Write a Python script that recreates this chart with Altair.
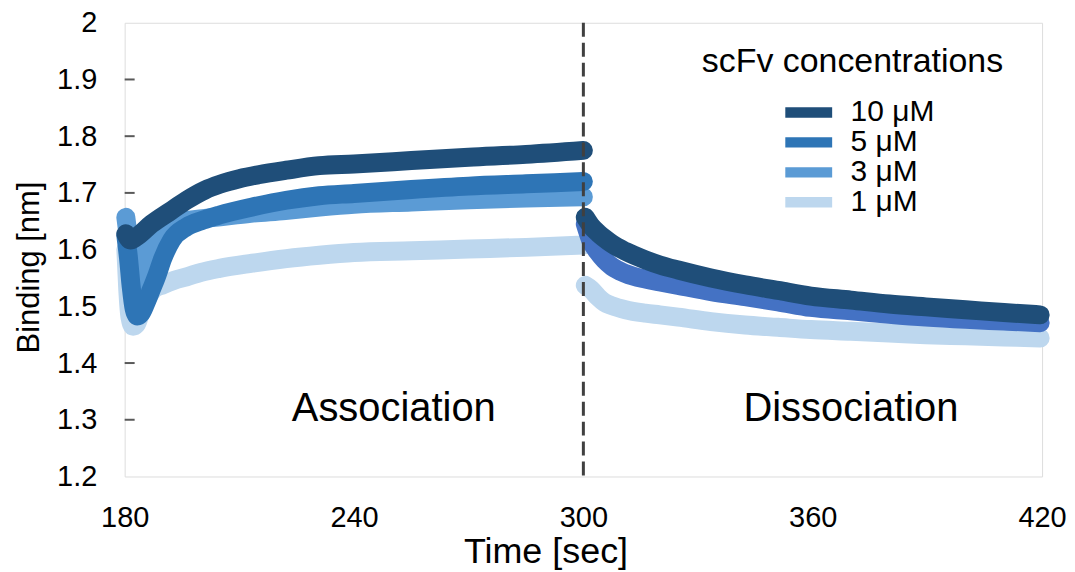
import altair as alt
import pandas as pd

# ---------------- data ----------------
series_names = ["10 μM", "5 μM", "3 μM", "1 μM"]
legend_colors = ["#1F4E79", "#2E75B6", "#5B9BD5", "#BDD7EE"]

# Association phase
assoc_t_10 = [180.3, 181.5, 183.0, 187.0, 192.0, 196.2, 201.0, 204.8, 210.0, 215.0, 222.3, 230.9, 240.0, 255.0, 270.0, 285.0, 300.0]
assoc_v_10 = [1.628, 1.617, 1.622, 1.645, 1.668, 1.687, 1.705, 1.715, 1.725, 1.732, 1.740, 1.748, 1.751, 1.757, 1.763, 1.768, 1.775]

assoc_t_5 = [180.3, 181.0, 181.7, 182.5, 183.3, 184.3, 185.5, 187.0, 188.3, 190.0, 192.3, 196.2, 200.5, 204.8, 213.4, 222.3, 230.9, 240.0, 255.0, 270.0, 285.0, 300.0]
assoc_v_5 = [1.625, 1.585, 1.535, 1.495, 1.483, 1.488, 1.505, 1.530, 1.552, 1.585, 1.617, 1.640, 1.652, 1.661, 1.675, 1.687, 1.695, 1.699, 1.706, 1.712, 1.716, 1.720]

assoc_t_3 = [180.3, 181.0, 181.8, 182.6, 183.4, 184.5, 186.0, 188.0, 190.0, 193.0, 197.0, 201.0, 205.0, 213.0, 222.0, 231.0, 240.0, 255.0, 270.0, 285.0, 300.0]
assoc_v_3 = [1.657, 1.620, 1.580, 1.552, 1.545, 1.570, 1.600, 1.625, 1.638, 1.648, 1.652, 1.655, 1.658, 1.664, 1.669, 1.675, 1.680, 1.684, 1.688, 1.691, 1.693]

assoc_t_1 = [180.3, 180.8, 181.4, 182.2, 183.0, 184.0, 185.5, 187.4, 190.0, 193.0, 196.2, 200.0, 204.8, 213.4, 222.3, 230.9, 240.0, 255.0, 270.0, 285.0, 300.0]
assoc_v_1 = [1.600, 1.530, 1.480, 1.465, 1.468, 1.485, 1.508, 1.529, 1.538, 1.546, 1.552, 1.560, 1.567, 1.576, 1.584, 1.590, 1.595, 1.598, 1.601, 1.604, 1.608]

# Dissociation phase
dis_t = [300.5, 302.0, 303.9, 305.5, 307.5, 311.0, 316.2, 320.0, 324.8, 333.4, 342.3, 350.9, 359.5, 370.0, 380.0, 389.6, 400.0, 410.0, 419.5]
dis_v_10 = [1.657, 1.642, 1.629, 1.620, 1.610, 1.597, 1.582, 1.573, 1.564, 1.550, 1.538, 1.528, 1.518, 1.511, 1.504, 1.499, 1.494, 1.489, 1.485]
dis_v_5 = [1.645, 1.615, 1.595, 1.582, 1.570, 1.558, 1.548, 1.543, 1.537, 1.526, 1.517, 1.508, 1.498, 1.492, 1.486, 1.481, 1.477, 1.474, 1.471]
dis_v_1 = [1.537, 1.530, 1.516, 1.507, 1.501, 1.494, 1.488, 1.485, 1.481, 1.473, 1.467, 1.463, 1.459, 1.456, 1.453, 1.450, 1.448, 1.446, 1.444]
dis_colors = {"10 μM": "#1F4E79", "5 μM": "#4472C4", "1 μM": "#BDD7EE"}

y_tick_values = [1.3, 1.4, 1.5, 1.6, 1.7, 1.8, 1.9]
x_tick_values = [180, 240, 300, 360, 420]

phase_labels = ["Association", "Dissociation"]
phase_label_t = [250.4, 370.0]
phase_label_v = [1.297, 1.297]

legend_title = "scFv concentrations"

# ---------------- tables ----------------
assoc = {
    "10 μM": (assoc_t_10, assoc_v_10),
    "5 μM": (assoc_t_5, assoc_v_5),
    "3 μM": (assoc_t_3, assoc_v_3),
    "1 μM": (assoc_t_1, assoc_v_1),
}
dis = {"10 μM": dis_v_10, "5 μM": dis_v_5, "1 μM": dis_v_1}

FONT = "Liberation Sans"

X = alt.X(
    "t:Q",
    scale=alt.Scale(domain=[180, 420], nice=False, zero=False),
    axis=alt.Axis(
        values=x_tick_values, title="Time [sec]", grid=False, domain=False, ticks=False,
        labelFlush=False, labelOverlap=False,
        labelFontSize=29, labelColor="black", labelPadding=27, labelFont=FONT,
        titleFontSize=36, titleColor="black", titleFontWeight="normal", titleFont=FONT,
        titleX=422, titleY=86, titleBaseline="alphabetic",
    ),
)
Y = alt.Y(
    "v:Q",
    scale=alt.Scale(domain=[1.2, 2.0], nice=False, zero=False),
    axis=alt.Axis(
        values=[1.2, 1.3, 1.4, 1.5, 1.6, 1.7, 1.8, 1.9, 2.0], format=".1~f",
        title="Binding [nm]", grid=False, domain=False, ticks=False,
        labelFlush=False, labelOverlap=False,
        labelFontSize=29, labelColor="black", labelPadding=28, labelFont=FONT,
        titleFontSize=31, titleColor="black", titleFontWeight="normal", titleFont=FONT,
        titleX=-79, titleY=245,
    ),
)

# legend symbol: a thick horizontal band built from closely spaced thin strokes
band_path = "M-4,-0.68H4M-4,-0.34H4M-4,0H4M-4,0.34H4M-4,0.68H4"

color_scale = alt.Scale(domain=series_names, range=legend_colors)
legend = alt.Legend(
    title=None, orient="none", legendX=671, legendY=75, padding=0,
    symbolType=band_path, symbolStrokeWidth=2.4, symbolSize=138, symbolOpacity=1,
    labelFontSize=30, labelFont=FONT, labelColor="black", labelOffset=27, rowPadding=-2,
    labelExpr="length(datum.label) < 5 ? '\u2007' + datum.label : datum.label",
)

layers = []

# inward y ticks
ytick_df = pd.DataFrame({"v": y_tick_values})
layers.append(
    alt.Chart(ytick_df).mark_rule(color="#595959", strokeWidth=2).encode(
        y=Y, x=alt.value(0), x2=alt.value(10)
    )
)

line_kw = dict(strokeWidth=19, strokeCap="round", strokeJoin="round", interpolate="monotone")

for name in ["1 μM", "3 μM", "5 μM", "10 μM"]:
    tt, vv = assoc[name]
    df = pd.DataFrame({"t": tt, "v": vv, "series": name})
    layers.append(
        alt.Chart(df).mark_line(**line_kw).encode(
            x=X, y=Y,
            color=alt.Color("series:N", scale=color_scale, legend=legend),
        )
    )

for name in ["1 μM", "5 μM", "10 μM"]:
    df = pd.DataFrame({"t": dis_t, "v": dis[name], "series": name})
    layers.append(
        alt.Chart(df).mark_line(color=dis_colors[name], **line_kw).encode(x=X, y=Y)
    )

# dashed separator at t = 300
sep_df = pd.DataFrame({"t": [300]})
layers.append(
    alt.Chart(sep_df).mark_rule(color="#404040", strokeWidth=3, strokeDash=[14, 6]).encode(x=X)
)

# phase labels
ph_df = pd.DataFrame({"t": phase_label_t, "v": phase_label_v, "label": phase_labels})
layers.append(
    alt.Chart(ph_df).mark_text(fontSize=40, font=FONT, color="black", baseline="alphabetic", align="center").encode(
        x=X, y=Y, text="label:N"
    )
)

# legend title
lt_df = pd.DataFrame({"t": [370.4], "v": [1.930], "label": [legend_title]})
layers.append(
    alt.Chart(lt_df).mark_text(fontSize=34, font=FONT, color="black", baseline="middle", align="center").encode(
        x=X, y=Y, text="label:N"
    )
)

chart = (
    alt.layer(*layers)
    .properties(
        width=920, height=455,
        padding={"left": 117, "top": 14, "right": 25, "bottom": 94},
        autosize=alt.AutoSizeParams(type="none"),
    )
    .configure_view(stroke="#595959", strokeWidth=2)
    .configure(font=FONT)
)

chart.save("out.html", embed_options={"renderer": "svg", "actions": False})
